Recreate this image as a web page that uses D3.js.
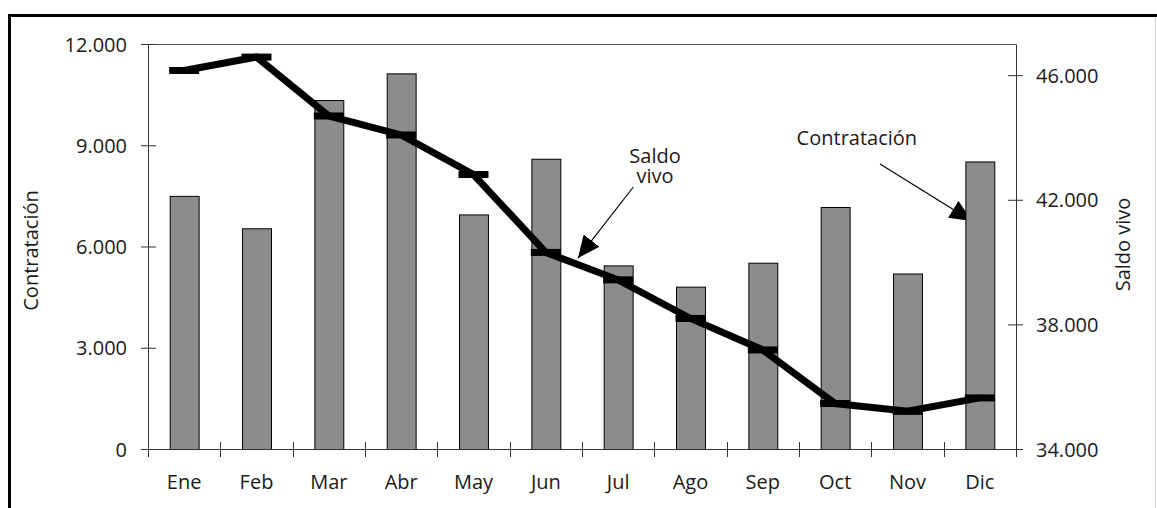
<!DOCTYPE html>
<html>
<head>
<meta charset="utf-8">
<script src="https://cdn.jsdelivr.net/npm/d3@7"></script>
<style>
    body { margin: 0; background: #fff; }
    text { font-family: "Open Sans", sans-serif; fill: #1a1a1a; }
</style>
</head>
<body>
<script>
const MONTHS = ["Ene", "Feb", "Mar", "Abr", "May", "Jun", "Jul", "Ago", "Sep", "Oct", "Nov", "Dic"];
const CONTRATACION = [7500, 6540, 10340, 11130, 6950, 8600, 5440, 4810, 5520, 7170, 5200, 8520];
const SALDO_VIVO = [46150, 46580, 44690, 44080, 42810, 40310, 39430, 38190, 37180, 35460, 35210, 35640];
const LEFT_TICKS = [0, 3000, 6000, 9000, 12000];
const RIGHT_TICKS = [34000, 38000, 42000, 46000];

const MARGINS = {top: 44, right: 141, left: 148, bottom: 59};
const WIDTH = 1157 - MARGINS.left - MARGINS.right;
const HEIGHT = 508 - MARGINS.top - MARGINS.bottom;
const FONT = 20;

const fmt = d3.formatLocale({decimal: ",", thousands: ".", grouping: [3], currency: ["", "€"]}).format(",d");

const root = d3.select("body").append("svg")
    .attr("width", 1157)
    .attr("height", 508);

// outer frame
root.append("path")
    .attr("d", "M9.5,508 V15.5 H1157")
    .attr("fill", "none")
    .attr("stroke", "#000")
    .attr("stroke-width", 3);
root.append("line")
    .attr("x1", 1155.5).attr("x2", 1155.5)
    .attr("y1", 17).attr("y2", 508)
    .attr("stroke", "#d0d0d0");

root.append("defs").append("marker")
    .attr("id", "arrow")
    .attr("markerUnits", "userSpaceOnUse")
    .attr("viewBox", "0 0 22 20")
    .attr("refX", 22).attr("refY", 10)
    .attr("markerWidth", 22).attr("markerHeight", 20)
    .attr("orient", "auto")
    .append("path")
        .attr("d", "M0,0 L22,10 L0,20 Z")
        .attr("fill", "#000");

const svg = root.append("g")
    .attr("transform", `translate(${MARGINS.left}, ${MARGINS.top})`);

const x = d3.scaleBand()
    .domain(MONTHS)
    .range([0, WIDTH])
    .paddingInner(0.6)
    .paddingOuter(0.3);

const xb = d3.scaleLinear().domain([0, MONTHS.length]).range([0, WIDTH]);

const yLeft = d3.scaleLinear()
    .domain([0, 12000])
    .range([HEIGHT, 0]);

const yRight = d3.scaleLinear()
    .domain([34000, 47000])
    .range([HEIGHT, 0]);

const cx = m => x(m) + x.bandwidth() / 2;

// plot box (top edge)
svg.append("line")
    .attr("x1", 0).attr("x2", WIDTH)
    .attr("y1", 0.5).attr("y2", 0.5)
    .attr("stroke", "#555");

// annotations (drawn under the bars)
const notes = svg.append("g");
notes.append("line")
    .attr("x1", xb(6.71)).attr("y1", yRight(42410))
    .attr("x2", xb(5.945)).attr("y2", yRight(40130))
    .attr("stroke", "#000").attr("stroke-width", 1.2)
    .attr("marker-end", "url(#arrow)");
notes.append("text")
    .attr("x", xb(7.01)).attr("y", yRight(43180))
    .attr("text-anchor", "middle")
    .attr("font-size", FONT)
    .selectAll("tspan")
    .data(["Saldo", "vivo"])
    .join("tspan")
        .attr("x", xb(7.01))
        .attr("dy", (d, i) => i ? 20 : 0)
        .text(d => d);

notes.append("line")
    .attr("x1", xb(10.12)).attr("y1", yRight(43150))
    .attr("x2", xb(11.39)).attr("y2", yRight(41320))
    .attr("stroke", "#000").attr("stroke-width", 1.2)
    .attr("marker-end", "url(#arrow)");
notes.append("text")
    .attr("x", xb(9.8)).attr("y", yRight(43760))
    .attr("text-anchor", "middle")
    .attr("font-size", FONT)
    .text("Contratación");

// bars
svg.selectAll("rect.bar")
    .data(CONTRATACION)
    .enter().append("rect")
        .attr("class", "bar")
        .attr("x", (d, i) => x(MONTHS[i]) + 0.5)
        .attr("y", d => yLeft(d) + 0.5)
        .attr("width", x.bandwidth())
        .attr("height", d => HEIGHT - yLeft(d))
        .attr("fill", "#8c8c8c")
        .attr("stroke", "#000")
        .attr("stroke-width", 1);

// left axis
const leftAxis = svg.append("g")
    .call(d3.axisLeft(yLeft).tickValues(LEFT_TICKS).tickFormat(fmt).tickSizeOuter(0));
leftAxis.select(".domain").attr("stroke", "#333");
leftAxis.selectAll(".tick line").attr("x1", 8).attr("x2", -7).attr("stroke", "#333");
leftAxis.selectAll(".tick text")
    .attr("x", -21)
    .attr("dy", "0.35em")
    .attr("font-size", FONT)
    .attr("font-family", null)
    .attr("fill", null);

// right axis
const rightAxis = svg.append("g")
    .attr("transform", `translate(${WIDTH}, 0)`)
    .call(d3.axisRight(yRight).tickValues(RIGHT_TICKS).tickFormat(fmt).tickSizeOuter(0));
rightAxis.select(".domain").attr("stroke", "#333");
rightAxis.selectAll(".tick line").attr("x1", -8).attr("x2", 7).attr("stroke", "#333");
rightAxis.selectAll(".tick text")
    .attr("x", 20)
    .attr("dy", "0.35em")
    .attr("font-size", FONT)
    .attr("font-family", null)
    .attr("fill", null);

// bottom axis
const bottom = svg.append("g").attr("transform", `translate(0, ${HEIGHT})`);
bottom.append("line")
    .attr("x1", 0).attr("x2", WIDTH)
    .attr("y1", 0.5).attr("y2", 0.5)
    .attr("stroke", "#333");
bottom.selectAll("line.tick")
    .data(d3.range(MONTHS.length + 1))
    .enter().append("line")
        .attr("class", "tick")
        .attr("x1", i => Math.round(xb(i)) + 0.5)
        .attr("x2", i => Math.round(xb(i)) + 0.5)
        .attr("y1", -7).attr("y2", 8)
        .attr("stroke", "#333");
bottom.selectAll("text")
    .data(MONTHS)
    .enter().append("text")
        .attr("x", cx)
        .attr("y", 40)
        .attr("text-anchor", "middle")
        .attr("font-size", FONT)
        .text(d => d);

// axis titles
svg.append("text")
    .attr("transform", `translate(${-MARGINS.left + 38}, ${HEIGHT / 2 + 4}) rotate(-90)`)
    .attr("text-anchor", "middle")
    .attr("font-size", FONT)
    .text("Contratación");
svg.append("text")
    .attr("transform", `translate(${WIDTH + 114}, ${HEIGHT / 2 - 2}) rotate(-90)`)
    .attr("text-anchor", "middle")
    .attr("font-size", FONT)
    .text("Saldo vivo");

// saldo vivo line
const line = d3.line()
    .x((d, i) => cx(MONTHS[i]))
    .y(d => yRight(d));

svg.append("path")
    .datum(SALDO_VIVO)
    .attr("fill", "none")
    .attr("stroke", "#000")
    .attr("stroke-width", 7)
    .attr("d", line);

svg.selectAll("rect.dash")
    .data(SALDO_VIVO)
    .enter().append("rect")
        .attr("class", "dash")
        .attr("x", (d, i) => cx(MONTHS[i]) - 15)
        .attr("y", d => yRight(d) - 3.5)
        .attr("width", 30)
        .attr("height", 7)
        .attr("fill", "#000");
</script>
</body>
</html>
